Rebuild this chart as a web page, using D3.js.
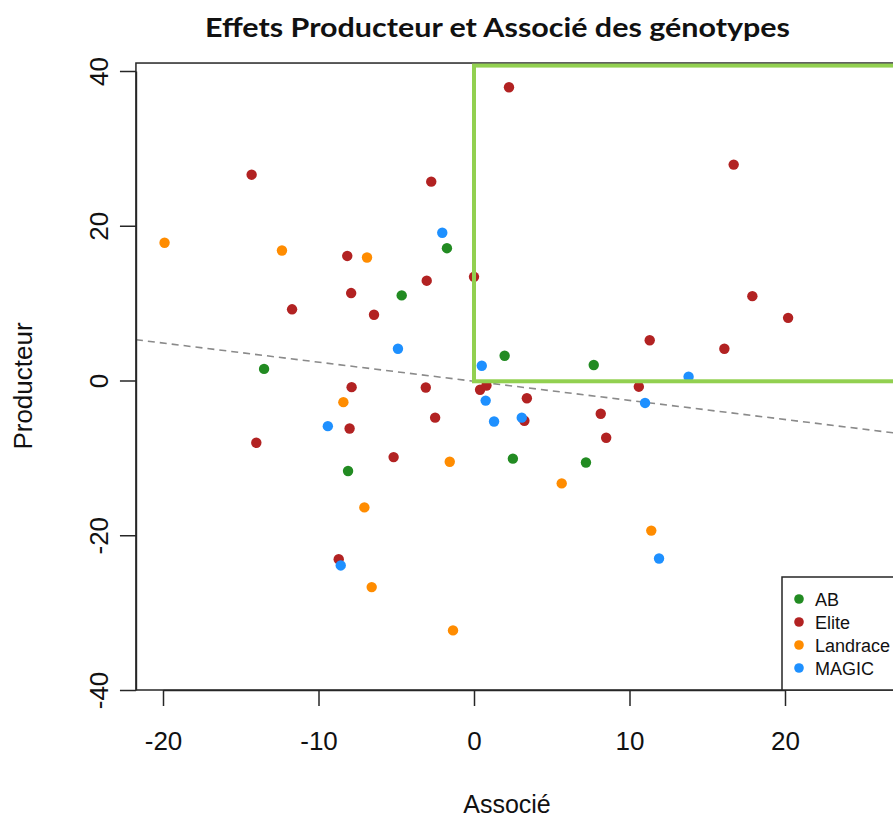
<!DOCTYPE html>
<html>
<head>
<meta charset="utf-8">
<script src="https://cdn.jsdelivr.net/npm/d3@7"></script>
<style>
  html, body { margin: 0; padding: 0; background: #fff; overflow: hidden; }
  svg { display: block; }
</style>
</head>
<body>
<svg id="chart" width="893" height="818"></svg>
<script>
// ---------- data ----------
const title = "Effets Producteur et Associé des génotypes";
const xLabel = "Associé";
const yLabel = "Producteur";
const groups = ["AB", "Elite", "Landrace", "MAGIC"];
const groupColors = ["#228B22", "#B22222", "#FF8C00", "#1E90FF"];
const xTicks = [-20, -10, 0, 10, 20];
const yTicks = [-40, -20, 0, 20, 40];

// AB
const abAssocie    = [-1.74, -4.65, -13.5, 1.97, 7.7, -8.1, 2.5, 7.2];
const abProducteur = [17.1, 11.0, 1.5, 3.2, 2.0, -11.7, -10.1, -10.6];
// Elite
const eliteAssocie    = [-14.3, -2.75, -8.15, -3.04, 0.0, -7.9, -11.7, -6.43, 2.25, 16.7, 17.9, 20.2, 11.3, 16.1, 10.6, -7.87, -3.1, 0.39, 0.8, 3.4, 8.15, 3.24, 8.5, -2.5, -8.0, -14.0, -5.17, -8.7];
const eliteProducteur = [26.6, 25.7, 16.1, 12.9, 13.4, 11.3, 9.2, 8.5, 37.9, 27.9, 10.9, 8.1, 5.2, 4.1, -0.8, -0.86, -0.9, -1.2, -0.65, -2.3, -4.3, -5.2, -7.4, -4.8, -6.2, -8.05, -9.9, -23.1];
// Landrace
const landAssocie    = [-19.9, -12.35, -6.88, -8.4, -1.56, -7.05, -6.58, -1.35, 5.64, 11.4];
const landProducteur = [17.8, 16.8, 15.9, -2.8, -10.5, -16.4, -26.7, -32.3, -13.3, -19.4];
// MAGIC
const magicAssocie    = [-2.04, -4.89, 0.5, 13.8, -9.4, -8.57, 0.75, 11.0, 1.29, 3.07, 11.9];
const magicProducteur = [19.1, 4.1, 1.9, 0.5, -5.9, -23.9, -2.6, -2.9, -5.3, -4.8, -23.0];

// regression line (Producteur ~ Associé)
const regIntercept = -0.1;
const regSlope = -0.247;

// highlighted quadrant (Associé > 0, Producteur > 0)
const quadX = [0, 30];
const quadY = [-0.1, 40.7];

// plot region limits
const xLim = [-21.74, 27.3];
const yLim = [-40, 41.03];

// ---------- build ----------
const seriesX = [abAssocie, eliteAssocie, landAssocie, magicAssocie];
const seriesY = [abProducteur, eliteProducteur, landProducteur, magicProducteur];
const points = [];
groups.forEach((g, gi) => {
  seriesX[gi].forEach((v, i) => points.push({ g: gi, x: v, y: seriesY[gi][i] }));
});

const svg = d3.select("#chart");
const x = d3.scaleLinear().domain([-20, 20]).range([163, 785]);
const y = d3.scaleLinear().domain([-40, 40]).range([690, 71]);

const axisFont = "'Liberation Sans', Arial, sans-serif";
const lineCol = "#262626";

// clip to plot region
svg.append("defs").append("clipPath").attr("id", "plotclip")
  .append("rect")
  .attr("x", x(xLim[0])).attr("y", y(yLim[1]))
  .attr("width", x(xLim[1]) - x(xLim[0])).attr("height", y(yLim[0]) - y(yLim[1]));

const plot = svg.append("g").attr("clip-path", "url(#plotclip)");

// regression dashed line
plot.append("line")
  .attr("x1", x(xLim[0])).attr("y1", y(regIntercept + regSlope * xLim[0]))
  .attr("x2", x(xLim[1])).attr("y2", y(regIntercept + regSlope * xLim[1]))
  .attr("stroke", "#8a8a8a").attr("stroke-width", 1.6)
  .attr("stroke-dasharray", "7,5");

// points
plot.selectAll("circle.pt").data(points).join("circle")
  .attr("class", "pt")
  .attr("cx", d => x(d.x)).attr("cy", d => y(d.y))
  .attr("r", 5.2)
  .attr("fill", d => groupColors[d.g]);

// plot box
svg.append("rect")
  .attr("x", x(xLim[0])).attr("y", y(yLim[1]))
  .attr("width", x(xLim[1]) - x(xLim[0])).attr("height", y(yLim[0]) - y(yLim[1]))
  .attr("fill", "none").attr("stroke", lineCol).attr("stroke-width", 1.5);

// x axis
const gx = svg.append("g").attr("transform", `translate(0,${y(yLim[0])})`)
  .call(d3.axisBottom(x).tickValues(xTicks).tickSize(16).tickSizeOuter(0).tickPadding(26)
    .tickFormat(d3.format("d")));
gx.select(".domain").attr("stroke", lineCol).attr("stroke-width", 1.5);
gx.selectAll(".tick line").attr("stroke", lineCol).attr("stroke-width", 1.5);
gx.selectAll(".tick text").attr("font-family", axisFont).attr("font-size", 26).attr("fill", "#111")
  .text(d => d < 0 ? "-" + Math.abs(d) : d);

// y axis
const gy = svg.append("g").attr("transform", `translate(${x(xLim[0])},0)`)
  .call(d3.axisLeft(y).tickValues(yTicks).tickSize(16).tickSizeOuter(0));
gy.select(".domain").attr("stroke", lineCol).attr("stroke-width", 1.5);
gy.selectAll(".tick line").attr("stroke", lineCol).attr("stroke-width", 1.5);
gy.selectAll(".tick text")
  .attr("x", 0).attr("y", 0).attr("dy", 0)
  .attr("transform", "translate(-28,0) rotate(-90)")
  .attr("text-anchor", "middle")
  .attr("font-family", axisFont).attr("font-size", 26).attr("fill", "#111")
  .text(d => d < 0 ? "-" + Math.abs(d) : d);

// axis titles
svg.append("text").attr("x", 507).attr("y", 813)
  .attr("text-anchor", "middle").attr("font-family", axisFont).attr("font-size", 25).attr("fill", "#111")
  .text(xLabel);
svg.append("text").attr("transform", "translate(32,386) rotate(-90)")
  .attr("text-anchor", "middle").attr("font-family", axisFont).attr("font-size", 26).attr("fill", "#111")
  .text(yLabel);

// legend (bottom right)
const legX = 782, legTop = 577;
const leg = svg.append("g");
leg.append("rect").attr("x", legX).attr("y", legTop)
  .attr("width", x(xLim[1]) - legX).attr("height", y(yLim[0]) - legTop)
  .attr("fill", "#fff").attr("stroke", lineCol).attr("stroke-width", 1.5);
groups.forEach((g, i) => {
  const cy = 599 + i * 23;
  leg.append("circle").attr("cx", 799).attr("cy", cy).attr("r", 4.8).attr("fill", groupColors[i]);
  leg.append("text").attr("x", 815).attr("y", cy + 7)
    .attr("font-family", axisFont).attr("font-size", 18).attr("fill", "#111").text(g);
});

// highlighted quadrant (drawn on top)
svg.append("rect")
  .attr("x", x(quadX[0])).attr("y", y(quadY[1]))
  .attr("width", x(quadX[1]) - x(quadX[0])).attr("height", y(quadY[0]) - y(quadY[1]))
  .attr("fill", "none").attr("stroke", "#92D050").attr("stroke-width", 4);

// title
svg.append("text").attr("x", 497.5).attr("y", 37)
  .attr("text-anchor", "middle")
  .attr("font-family", "Lato, 'Open Sans', sans-serif").attr("font-weight", "bold")
  .attr("font-size", 27).attr("fill", "#111")
  .attr("textLength", 585).attr("lengthAdjust", "spacingAndGlyphs")
  .text(title);
</script>
</body>
</html>
